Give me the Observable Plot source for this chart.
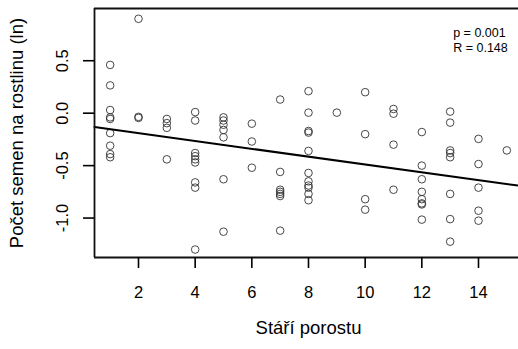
<!DOCTYPE html>
<html>
<head>
<meta charset="utf-8">
<script src="https://cdn.jsdelivr.net/npm/d3@7"></script>
<script src="https://cdn.jsdelivr.net/npm/@observablehq/plot@0.6"></script>
<style>
  html, body { margin: 0; padding: 0; background: #fff; }
  #chart svg { display: block; }
</style>
</head>
<body>
<div id="chart"></div>
<script>
// Data
const age = [
  1,1,1,1,1,1,1,1,1,
  2,2,2,
  3,3,3,3,
  4,4,4,4,4,4,4,4,4,
  5,5,5,5,5,5,5,
  6,6,6,
  7,7,7,7,7,7,7,
  8,8,8,8,8,8,8,8,8,8,8,
  9,
  10,10,10,10,
  11,11,11,11,
  12,12,12,12,12,12,12,12,
  13,13,13,13,13,13,13,13,
  14,14,14,14,14,
  15
];
const seeds = [
  0.46, 0.265, 0.03, -0.04, -0.055, -0.19, -0.31, -0.39, -0.42,
  0.90, -0.035, -0.045,
  -0.055, -0.095, -0.14, -0.44,
  0.01, -0.07, -0.38, -0.41, -0.44, -0.47, -0.66, -0.71, -1.30,
  -0.04, -0.07, -0.11, -0.16, -0.23, -0.63, -1.13,
  -0.10, -0.27, -0.52,
  0.13, -0.56, -0.73, -0.75, -0.77, -0.79, -1.12,
  0.21, 0.005, -0.17, -0.185, -0.36, -0.57, -0.65, -0.69, -0.71, -0.77, -0.83,
  0.005,
  0.20, -0.20, -0.82, -0.92,
  0.04, -0.005, -0.30, -0.73,
  -0.18, -0.50, -0.63, -0.75, -0.82, -0.86, -0.87, -1.015,
  0.015, -0.09, -0.355, -0.38, -0.42, -0.77, -1.01, -1.225,
  -0.245, -0.485, -0.71, -0.93, -1.025,
  -0.355
];
const regression = { intercept: -0.116, slope: -0.0373 };
const xTicks = [2, 4, 6, 8, 10, 12, 14];
const yTicks = [-1.0, -0.5, 0.0, 0.5];
const xDomain = [0.447, 15.412];
const yDomain = [-1.376, 0.998];
const xTitle = "Stáří porostu";
const yTitle = "Počet semen na rostlinu (ln)";
const statsText = ["p = 0.001", "R = 0.148"];

const points = age.map((a, i) => ({ x: a, y: seeds[i] }));
const fitLine = xDomain.map(x => ({ x, y: regression.intercept + regression.slope * x }));

const font = "'Liberation Sans', Arial, Helvetica, sans-serif";

const chart = Plot.plot({
  width: 518,
  height: 349,
  marginLeft: 94,
  marginRight: 0,
  marginTop: 8,
  marginBottom: 92,
  style: { fontFamily: font, fontSize: "16px", background: "#fff", color: "#000" },
  x: { domain: xDomain, axis: null },
  y: { domain: yDomain, axis: null },
  marks: [
    // points
    Plot.dot(points, { x: "x", y: "y", r: 3.8, stroke: "#333", strokeWidth: 0.9, fill: "none" }),
    // regression line
    Plot.line(fitLine, { x: "x", y: "y", stroke: "#000", strokeWidth: 2 }),
    // tick labels
    Plot.text(xTicks, { x: d => d, frameAnchor: "bottom", dy: 35, lineAnchor: "middle", text: d => String(d), fontSize: 16.5, fill: "#000" }),
    Plot.text(yTicks, { y: d => d, frameAnchor: "left", dx: -32, rotate: -90, textAnchor: "middle", lineAnchor: "middle", text: d => d.toFixed(1), fontSize: 16.5, fill: "#000" }),
    // axis titles
    Plot.text([xTitle], { frameAnchor: "bottom", dx: 2, dy: 71, lineAnchor: "middle", text: d => d, fontSize: 18.5, fill: "#000" }),
    Plot.text([yTitle], { frameAnchor: "left", dx: -77, rotate: -90, textAnchor: "middle", lineAnchor: "middle", text: d => d, fontSize: 18.5, fill: "#000" }),
    // stats legend
    Plot.text([statsText.join("\n")], { frameAnchor: "top-right", dx: -65.3, dy: 18, textAnchor: "start", lineAnchor: "top", lineHeight: 1.2, text: d => d, fontSize: 12.5, fill: "#000" }),
    // box (left, top, bottom; right edge falls outside the picture)
    Plot.ruleX([xDomain[0]], { stroke: "#111", strokeWidth: 1.8 }),
    Plot.ruleY([yDomain[0], yDomain[1]], { stroke: "#111", strokeWidth: 1.8 }),
    // tick marks
    Plot.tickX(xTicks, { x: d => d, insetTop: 249, insetBottom: -11, stroke: "#000", strokeWidth: 1.6 }),
    Plot.tickY(yTicks, { y: d => d, insetLeft: -11, insetRight: 424, stroke: "#000", strokeWidth: 1.6 })
  ]
});

document.getElementById("chart").appendChild(chart);
</script>
</body>
</html>
